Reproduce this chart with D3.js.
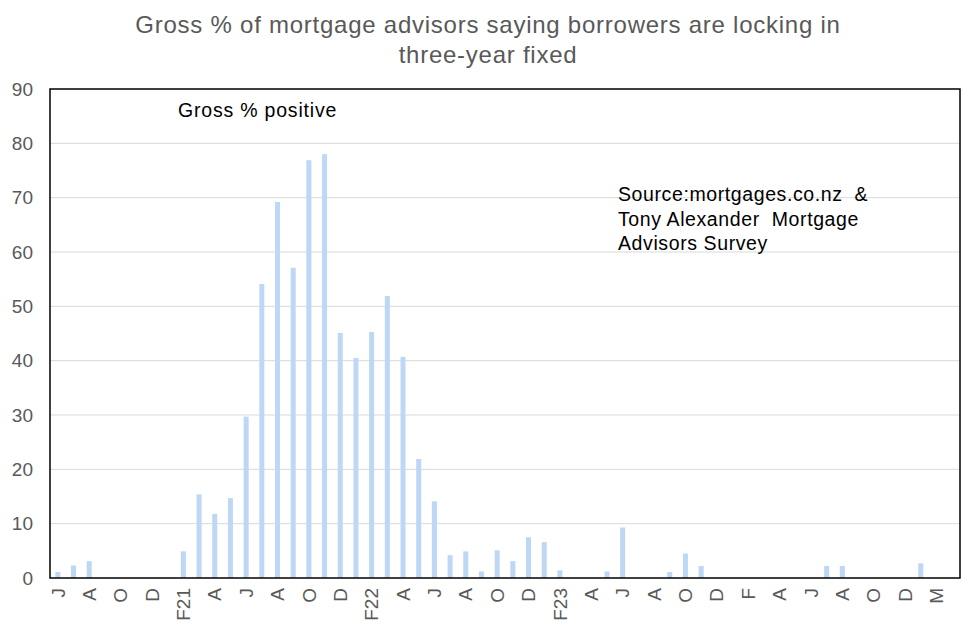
<!DOCTYPE html>
<html>
<head>
<meta charset="utf-8">
<script src="https://cdn.jsdelivr.net/npm/d3@7"></script>
<style>
  body { margin: 0; background: #fff; }
  text { font-family: "Liberation Sans", Arial, sans-serif; }
</style>
</head>
<body>
<div id="chart"></div>
<script>
// monthly survey readings, Jun 2020 onwards (0 = nobody / no reading)
const grossPositive = [
  1.1, 2.3, 3.1, 0, 0, 0, 0, 0, 4.9, 15.4,
  11.8, 14.7, 29.7, 54.1, 69.2, 57.1, 76.9, 78.0, 45.1, 40.5,
  45.3, 51.9, 40.7, 21.9, 14.1, 4.2, 4.9, 1.2, 5.1, 3.1,
  7.5, 6.6, 1.4, 0, 0, 1.2, 9.3, 0, 0, 1.1,
  4.5, 2.2, 0, 0, 0, 0, 0, 0, 0, 2.2,
  2.2, 0, 0, 0, 0, 2.7, 0, 0
];

// tick labels, every second month
const tickLabels = [
  "J", "", "A", "", "O", "", "D", "", "F21", "",
  "A", "", "J", "", "A", "", "O", "", "D", "",
  "F22", "", "A", "", "J", "", "A", "", "O", "",
  "D", "", "F23", "", "A", "", "J", "", "A", "",
  "O", "", "D", "", "F", "", "A", "", "J", "",
  "A", "", "O", "", "D", "", "M", ""
];

const yTicks = [0, 10, 20, 30, 40, 50, 60, 70, 80, 90];

const width = 976, height = 637;
const margin = { top: 89, right: 16, bottom: 59, left: 50 };

const svg = d3.select("#chart")
  .append("svg")
  .attr("width", width)
  .attr("height", height);

const xScale = d3.scaleBand()
  .domain(d3.range(grossPositive.length))
  .range([margin.left, width - margin.right])
  .paddingInner(0.68)
  .paddingOuter(0.34);

const yScale = d3.scaleLinear()
  .domain([0, 90])
  .range([height - margin.bottom, margin.top]);

// gridlines
svg.append("g")
  .selectAll("line")
  .data(yTicks.slice(1, -1))
  .enter()
  .append("line")
    .attr("x1", margin.left)
    .attr("x2", width - margin.right)
    .attr("y1", d => yScale(d))
    .attr("y2", d => yScale(d))
    .attr("stroke", "#d9d9d9")
    .attr("stroke-width", 1);

// bars
svg.append("g")
  .selectAll("rect")
  .data(grossPositive)
  .enter()
  .append("rect")
    .attr("x", (d, i) => xScale(i))
    .attr("y", d => yScale(d))
    .attr("width", xScale.bandwidth())
    .attr("height", d => yScale(0) - yScale(d))
    .attr("fill", "#bdd7f5");

// plot frame
svg.append("rect")
  .attr("x", margin.left)
  .attr("y", margin.top)
  .attr("width", width - margin.left - margin.right)
  .attr("height", height - margin.top - margin.bottom)
  .attr("fill", "none")
  .attr("stroke", "#000")
  .attr("stroke-width", 1.5);

// y axis
const yAxis = svg.append("g")
  .attr("transform", `translate(${margin.left},0)`)
  .call(d3.axisLeft(yScale).tickValues(yTicks).tickSize(0).tickPadding(17));
yAxis.select(".domain").remove();
yAxis.selectAll("text")
  .attr("font-size", "19px")
  .attr("fill", "#595959")
  .style("font-family", "Liberation Sans, Arial, sans-serif");

// x axis
const xAxis = svg.append("g")
  .attr("transform", `translate(0,${height - margin.bottom})`)
  .call(d3.axisBottom(xScale).tickFormat(i => tickLabels[i]).tickSize(0));
xAxis.select(".domain").remove();
xAxis.selectAll("text")
  .attr("transform", "rotate(-90)")
  .attr("text-anchor", "end")
  .attr("x", -10)
  .attr("y", 0)
  .attr("dy", "0.35em")
  .attr("font-size", "19px")
  .attr("fill", "#595959")
  .style("font-family", "Liberation Sans, Arial, sans-serif");

// title
const title = svg.append("text")
  .attr("text-anchor", "middle")
  .attr("font-size", "24px")
  .attr("letter-spacing", "0.75px")
  .attr("fill", "#595959");
title.append("tspan").attr("x", 488).attr("y", 33)
  .text("Gross % of mortgage advisors saying borrowers are locking in");
title.append("tspan").attr("x", 488).attr("y", 63)
  .text("three-year fixed");

// series label
svg.append("text")
  .attr("x", 178)
  .attr("y", 117)
  .attr("font-size", "19.5px")
  .attr("letter-spacing", "0.8px")
  .attr("fill", "#000")
  .text("Gross % positive");

// source note
const sourceLines = ["Source:mortgages.co.nz  &", "Tony Alexander  Mortgage", "Advisors Survey"];
svg.append("text")
  .attr("font-size", "19.5px")
  .attr("letter-spacing", "0.6px")
  .attr("fill", "#000")
  .style("white-space", "pre")
  .selectAll("tspan")
  .data(sourceLines)
  .enter()
  .append("tspan")
    .attr("x", 618)
    .attr("y", (d, i) => 201 + i * 24.5)
    .text(d => d);
</script>
</body>
</html>
